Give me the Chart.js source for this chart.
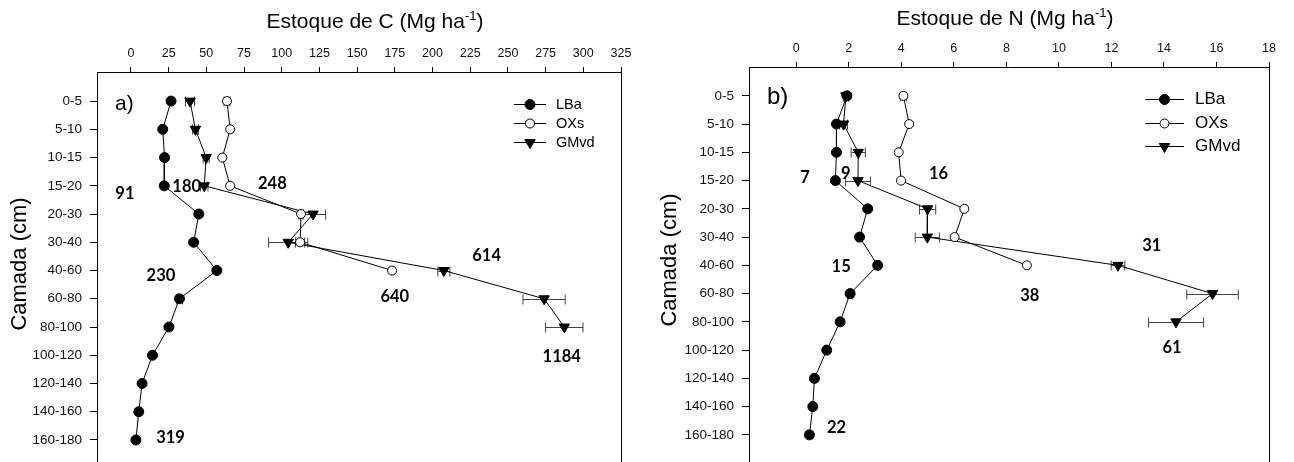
<!DOCTYPE html>
<html>
<head>
<meta charset="utf-8">
<script src="https://cdn.jsdelivr.net/npm/chart.js@4.4.1/dist/chart.umd.min.js"></script>
<style>
html, body { margin: 0; padding: 0; background: #fff; overflow: hidden; }
#wrap { position: relative; width: 1294px; height: 462px; }
canvas { position: absolute; top: 0; }
</style>
</head>
<body>
<div id="wrap">
  <canvas id="chartC" width="647" height="462" style="left:0"></canvas>
  <canvas id="chartN" width="647" height="462" style="left:647px"></canvas>
</div>
<script>
// soil layers (cm), top to bottom
const depthLabels = ["0-5", "5-10", "10-15", "15-20", "20-30", "30-40", "40-60",
                     "60-80", "80-100", "100-120", "120-140", "140-160", "160-180"];

// a) carbon stock, Mg/ha
const cTicks = [0, 25, 50, 75, 100, 125, 150, 175, 200, 225, 250, 275, 300, 325];
const cLBa = [26.6, 21.1, 22.3, 22.1, 45.0, 41.6, 57.0, 32.2, 25.2, 14.3, 7.4, 5.2, 3.3];
const cLBaErr = [0, 0, 0, 0, 0, 0, 0, 2, 0, 0, 0, 0, 0];
const cOXs = [63.7, 65.8, 60.6, 65.8, 112.8, 112.2, 173.2];
const cOXsErr = [2, 0, 0, 0, 1.5, 3, 0];
const cGMvd = [39.2, 42.8, 49.9, 48.6, 120.8, 104.3, 207.5, 274.0, 287.4];
const cGMvdErr = [3, 2, 2, 2.5, 8.3, 13, 4, 14, 12.4];
const cNoteText = ["91", "180", "248", "230", "614", "640", "1184", "319"];
const cNoteX = [-4, 37, 93.8, 19.9, 235.9, 175, 285.7, 26.3];
const cNoteY = [3.29, 3.04, 2.94, 6.19, 5.48, 6.93, 9.06, 11.92];

// b) nitrogen stock, Mg/ha
const nTicks = [0, 2, 4, 6, 8, 10, 12, 14, 16, 18];
const nLBa = [1.93, 1.53, 1.53, 1.49, 2.72, 2.41, 3.1, 2.05, 1.67, 1.16, 0.69, 0.63, 0.5];
const nLBaErr = [0.08, 0, 0, 0, 0, 0, 0, 0.1, 0, 0, 0, 0, 0];
const nOXs = [4.08, 4.3, 3.9, 3.99, 6.4, 6.03, 8.78];
const nOXsErr = [0.12, 0, 0, 0, 0, 0, 0];
const nGMvd = [1.89, 1.8, 2.36, 2.35, 5.0, 4.99, 12.25, 15.85, 14.46];
const nGMvdErr = [0.1, 0.15, 0.27, 0.47, 0.31, 0.46, 0.26, 0.98, 1.05];
const nNoteText = ["7", "9", "16", "15", "31", "38", "61", "22"];
const nNoteX = [0.33, 1.89, 5.42, 1.71, 13.54, 8.89, 14.31, 1.53];
const nNoteY = [2.91, 2.74, 2.77, 6.04, 5.3, 7.08, 8.9, 11.76];

const FONT = "'Liberation Sans', Arial, sans-serif";

function toPts(vals) {
    return vals.map((v, i) => ({ x: v, y: i }));
}

function series(label, vals, errs, style) {
    return Object.assign({
        label: label,
        data: toPts(vals),
        errs: errs,
        showLine: true,
        borderColor: "#000",
        borderWidth: 1,
        pointBorderColor: "#000",
        pointBorderWidth: 1,
        pointHoverRadius: 0
    }, style);
}

const deco = {
    id: "deco",
    beforeDatasetsDraw(chart, args, o) {
        const ctx = chart.ctx;
        const xs = chart.scales.x, ys = chart.scales.y;
        ctx.save();
        ctx.strokeStyle = "#444";
        ctx.lineWidth = 1;
        chart.data.datasets.forEach((ds) => {
            (ds.errs || []).forEach((e, i) => {
                if (!e || i >= ds.data.length) return;
                const v = ds.data[i].x;
                const x1 = xs.getPixelForValue(v - e);
                const x2 = xs.getPixelForValue(v + e);
                const y = Math.round(ys.getPixelForValue(i)) + 0.5;
                ctx.beginPath();
                ctx.moveTo(x1, y); ctx.lineTo(x2, y);
                ctx.moveTo(x1, y - 5); ctx.lineTo(x1, y + 5);
                ctx.moveTo(x2, y - 5); ctx.lineTo(x2, y + 5);
                ctx.stroke();
            });
        });
        ctx.restore();
    },
    afterDraw(chart, args, o) {
        const ctx = chart.ctx;
        const ca = chart.chartArea;
        const xs = chart.scales.x, ys = chart.scales.y;
        ctx.save();
        // right side of the frame
        ctx.strokeStyle = "#000";
        ctx.lineWidth = 1;
        ctx.beginPath();
        ctx.moveTo(Math.round(ca.right) + 0.5, ca.top);
        ctx.lineTo(Math.round(ca.right) + 0.5, ca.bottom);
        ctx.stroke();

        ctx.fillStyle = "#000";
        // x title with superscript
        const main = o.title, sup = "-1", tail = ")";
        ctx.font = "21px " + FONT;
        const w1 = ctx.measureText(main).width;
        const w3 = ctx.measureText(tail).width;
        ctx.font = "13px " + FONT;
        const w2 = ctx.measureText(sup).width;
        let tx = o.titleX - (w1 + w2 + w3) / 2;
        ctx.textAlign = "left";
        ctx.textBaseline = "middle";
        ctx.font = "21px " + FONT;
        ctx.fillText(main, tx, o.titleY);
        ctx.font = "13px " + FONT;
        ctx.fillText(sup, tx + w1, o.titleY - 6);
        ctx.font = "21px " + FONT;
        ctx.fillText(tail, tx + w1 + w2, o.titleY);

        // y title
        ctx.save();
        ctx.translate(o.yTitleX, o.yTitleY);
        ctx.rotate(-Math.PI / 2);
        ctx.textAlign = "center";
        ctx.font = "22px " + FONT;
        ctx.fillText("Camada (cm)", 0, 0);
        ctx.restore();

        // panel letter
        ctx.font = o.letterSize + "px " + FONT;
        ctx.textAlign = "left";
        ctx.fillText(o.letter, o.letterX, o.letterY);

        // totals written next to the profiles
        ctx.font = "bold 16.5px Lato, 'Open Sans', sans-serif";
        ctx.textAlign = "center";
        o.notes.forEach((t, i) => {
            ctx.fillText(t, xs.getPixelForValue(o.noteX[i]), ys.getPixelForValue(o.noteY[i]));
        });

        // legend
        const lg = o.legend;
        chart.data.datasets.forEach((ds, i) => {
            const y = Math.round(lg.y + i * lg.gap) + 0.5;
            ctx.strokeStyle = "#000";
            ctx.lineWidth = 1;
            ctx.beginPath();
            ctx.moveTo(lg.x0, y); ctx.lineTo(lg.x1, y);
            ctx.stroke();
            ctx.fillStyle = ds.pointBackgroundColor;
            Chart.helpers.drawPoint(ctx, {
                pointStyle: ds.pointStyle,
                rotation: ds.pointRotation || 0,
                radius: ds.pointRadius,
                borderWidth: 1
            }, (lg.x0 + lg.x1) / 2, y);
            ctx.fillStyle = "#000";
            ctx.font = lg.font + "px " + FONT;
            ctx.textAlign = "left";
            ctx.fillText(ds.label, lg.tx, y);
        });
        ctx.restore();
    }
};

function makePanel(id, p) {
    const ctx = document.getElementById(id).getContext("2d");
    return new Chart(ctx, {
        type: "scatter",
        data: {
            datasets: [
                series("LBa", p.lba, p.lbaErr, { pointStyle: "circle", pointRadius: 5, pointBackgroundColor: "#000" }),
                series("OXs", p.oxs, p.oxsErr, { pointStyle: "circle", pointRadius: 4.5, pointBackgroundColor: "#fff" }),
                series("GMvd", p.gmvd, p.gmvdErr, { pointStyle: "triangle", pointRotation: 180, pointRadius: 6, pointBackgroundColor: "#000" })
            ]
        },
        options: {
            responsive: false,
            animation: false,
            events: [],
            layout: { autoPadding: false, padding: { left: 0, right: p.padRight, top: 0, bottom: 0 } },
            plugins: {
                legend: { display: false },
                tooltip: { enabled: false },
                deco: p.deco
            },
            scales: {
                x: {
                    type: "linear",
                    position: "top",
                    min: p.xMin,
                    max: p.xMax,
                    afterBuildTicks: (s) => { s.ticks = p.xTicks.map((v) => ({ value: v })); },
                    afterFit: (s) => { s.height = p.xAxisHeight; },
                    grid: { drawOnChartArea: false, drawTicks: true, tickLength: 5, color: "#000" },
                    border: { display: true, color: "#000", width: 1 },
                    ticks: {
                        autoSkip: false, maxRotation: 0, padding: 6, color: "#111",
                        font: { family: FONT, size: 12.5 }
                    }
                },
                y: {
                    type: "linear",
                    reverse: true,
                    min: p.yMin,
                    max: p.yMax,
                    afterBuildTicks: (s) => { s.ticks = depthLabels.map((_, i) => ({ value: i })); },
                    afterFit: (s) => { s.width = p.yAxisWidth; s.paddingTop = 0; s.paddingBottom = 0; },
                    grid: { drawOnChartArea: false, drawTicks: true, tickLength: 7, color: "#000" },
                    border: { display: true, color: "#000", width: 1 },
                    ticks: {
                        autoSkip: false, padding: 8, color: "#111",
                        font: { family: FONT, size: 13.5 },
                        callback: (v) => depthLabels[v]
                    }
                }
            }
        },
        plugins: [deco]
    });
}

makePanel("chartC", {
    lba: cLBa, lbaErr: cLBaErr, oxs: cOXs, oxsErr: cOXsErr, gmvd: cGMvd, gmvdErr: cGMvdErr,
    xTicks: cTicks, xMin: -22.5, xMax: 325, yMin: -1.03, yMax: 12.78,
    yAxisWidth: 97, xAxisHeight: 72, padRight: 26,
    deco: {
        title: "Estoque de C (Mg ha", titleX: 375, titleY: 22,
        yTitleX: 20, yTitleY: 264,
        letter: "a)", letterX: 115, letterY: 104, letterSize: 21,
        notes: cNoteText, noteX: cNoteX, noteY: cNoteY,
        legend: { x0: 514, x1: 546, tx: 556, y: 104, gap: 19, font: 14.5 }
    }
});

makePanel("chartN", {
    lba: nLBa, lbaErr: nLBaErr, oxs: nOXs, oxsErr: nOXsErr, gmvd: nGMvd, gmvdErr: nGMvdErr,
    xTicks: nTicks, xMin: -1.8, xMax: 18, yMin: -1.02, yMax: 12.96,
    yAxisWidth: 102, xAxisHeight: 67, padRight: 25,
    deco: {
        title: "Estoque de N (Mg ha", titleX: 358, titleY: 19,
        yTitleX: 23, yTitleY: 260,
        letter: "b)", letterX: 120, letterY: 97, letterSize: 24,
        notes: nNoteText, noteX: nNoteX, noteY: nNoteY,
        legend: { x0: 498, x1: 537, tx: 548, y: 99, gap: 23.5, font: 17 }
    }
});
</script>
</body>
</html>
